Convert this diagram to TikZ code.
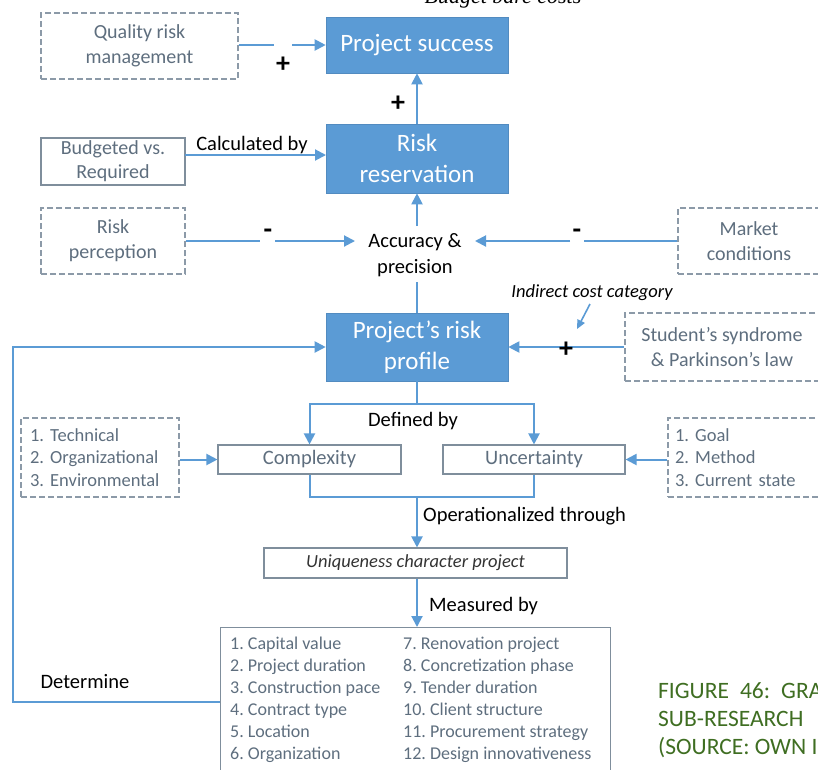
\documentclass[tikz,border=0pt]{standalone}
\usepackage{fontspec}
\setmainfont{Carlito}
\newfontfamily\serifit{Liberation Serif}
\usetikzlibrary{arrows.meta}
\frenchspacing
\definecolor{bblue}{HTML}{5B9BD5}
\definecolor{lblue}{HTML}{5B9BD5}
\definecolor{boxtxt}{HTML}{5E6E7E}
\definecolor{dashgray}{HTML}{8C9AA8}
\definecolor{solidgray}{HTML}{7F8E9C}
\definecolor{capgreen}{HTML}{3F6E22}
\tikzset{
  filledbox/.style={draw=bblue!90!black, line width=0.6pt, fill=bblue, text=white, font=\fontsize{25}{31}\selectfont, align=center, inner sep=0pt},
  dashbox/.style={draw=dashgray, dashed, dash pattern=on 6pt off 3pt, line width=1.1pt, text=boxtxt, font=\fontsize{20}{25}\selectfont, align=center, inner sep=0pt},
  solidbox/.style={draw=solidgray, line width=1.1pt, text=boxtxt, font=\fontsize{20}{24}\selectfont, align=center, inner sep=0pt},
  plaintxt/.style={text=boxtxt, font=\fontsize{20}{25}\selectfont, align=center, inner sep=0pt},
  listtxt/.style={align=left, font=\fontsize{18.5}{22.5}\selectfont},
  arr/.style={draw=lblue, line width=2pt, -{Triangle[length=11pt,width=11pt]}},
  ln/.style={draw=lblue, line width=2pt},
  lbl/.style={font=\fontsize{20.5}{26}\selectfont, text=black, inner sep=0pt},
  sign/.style={font=\bfseries\fontsize{28}{28}\selectfont, text=black, inner sep=0pt},
}
\begin{document}
\begin{tikzpicture}[x=1pt,y=-1pt]
\useasboundingbox (0,0) rectangle (818,769);

% top cut-off text
\node[font=\serifit\itshape\fontsize{22}{22}\selectfont, anchor=base, inner sep=0pt] (bbc) at (503,3) {Budget bare costs};

% Row 1
\node[dashbox, minimum width=197pt, minimum height=66pt] (qrm) at (139.5,46) {Quality risk\\management};
\node[filledbox, minimum width=182pt, minimum height=56pt] (ps) at (417,45) {Project success};
\coordinate (g1) at (274,45);
\coordinate (g2) at (292,45);
\draw[ln] (qrm.east |- ps.west) -- (g1);
\draw[arr] (g2) -- (ps.west);
\node[sign] (p1) at (283,65) {+};

% Row 2
\node[filledbox, minimum width=182pt, minimum height=69pt] (rr) at (417,158.5) {Risk\\reservation};
\draw[arr] (rr.north) -- (ps.south);
\node[sign] (p2) at (398,104) {+};
\node[solidbox, minimum width=144pt, minimum height=47pt] (bvr) at (113,161.5) {Budgeted vs.\\Required};
\coordinate (bvrout) at (185,155);
\coordinate (rrin) at (326,155);
\draw[arr] (bvrout) -- (rrin);
\node[lbl] (calc) at (252,145) {Calculated by};

% Row 3
\node[dashbox, minimum width=144pt, minimum height=66pt] (rp) at (113,241) {Risk\\perception};
\node[dashbox, minimum width=160pt, minimum height=66pt] (mc) at (758,241) {};
\node[plaintxt] (mct) at (749,241) {Market\\conditions};
\node[lbl, align=center] (acc) at (415,255) {Accuracy \&\\precision};
\coordinate (accl) at (355,241);
\coordinate (accr) at (475,241);
\coordinate (g3) at (260,241);
\coordinate (g4) at (275,241);
\coordinate (g5) at (584,241);
\coordinate (g6) at (570,241);
\draw[ln] (rp.east) -- (g3);
\draw[arr] (g4) -- (accl);
\draw[ln] (mc.west) -- (g5);
\draw[arr] (g6) -- (accr);
\node[sign] (m1) at (268,234) {-};
\node[sign] (m2) at (577,234) {-};
\coordinate (acctop) at (417,226);
\coordinate (accbot) at (417,282);
\draw[arr] (acctop) -- (rr.south);

% Row 4
\node[filledbox, minimum width=182pt, minimum height=68pt] (prof) at (417,347) {Project's risk\\profile};
\draw[ln] (prof.north) -- (accbot);
\node[dashbox, minimum width=205pt, minimum height=68pt] (ss) at (727.5,347) {};
\node[plaintxt] (sst) at (722,347) {Student's syndrome\\\& Parkinson's law};
\draw[arr] (ss.west) -- (prof.east);
\node[sign] (p3) at (566,350) {+};
\node[font=\itshape\fontsize{18.5}{18.5}\selectfont, inner sep=0pt] (icc) at (592,293) {Indirect cost category};
\coordinate (iccs) at (590,304);
\coordinate (icce) at (577,329);
\draw[draw=lblue, line width=1.6pt, -{Triangle[length=9pt,width=8pt]}] (iccs) -- (icce);

% Row 5
\node[dashbox, listtxt, minimum width=158pt, minimum height=79pt, text width=140pt] (tech) at (100,457.5) {1. Technical\\2. Organizational\\3. Environmental};
\node[solidbox, font=\fontsize{20.5}{24}\selectfont, minimum width=183pt, minimum height=29pt] (cx) at (309.5,459.5) {Complexity};
\node[solidbox, font=\fontsize{20.5}{24}\selectfont, minimum width=182pt, minimum height=29pt] (un) at (534,459.5) {Uncertainty};
\node[dashbox, listtxt, minimum width=160pt, minimum height=79pt, text width=146pt] (goal) at (748,457.5) {1. Goal\\2. Method\\3. Current state};
\draw[arr] (tech.east |- cx.west) -- (cx.west);
\draw[arr] (goal.west |- un.east) -- (un.east);
\coordinate (split) at (417,404);
\draw[ln] (prof.south) -- (split);
\draw[arr] (split) -| (cx.north);
\draw[arr] (split) -| (un.north);
\node[lbl] (defby) at (413,421) {Defined by};
\coordinate (join) at (417,497);
\draw[ln] (cx.south) |- (join);
\draw[ln] (un.south) |- (join);

% Row 6
\node[solidbox, minimum width=303pt, minimum height=30pt, font=\itshape\fontsize{18.5}{20}\selectfont, text=black!80] (uq) at (415.5,563) {Uniqueness character project};
\draw[arr] (join) -- (uq.north -| join);
\node[lbl, anchor=west] (opt) at (423,516) {Operationalized through};

% Row 7
\node[solidbox, minimum width=390pt, minimum height=160pt, anchor=north west] (meas) at (220,627) {};
\draw[arr] (uq.south -| join) -- (meas.north -| join);
\node[lbl, anchor=west] (mby) at (429,606) {Measured by};
\node[anchor=north west, align=left, inner sep=0pt, text=boxtxt, font=\fontsize{18}{22}\selectfont] (colA) at (230,637) {1. Capital value\\2. Project duration\\3. Construction pace\\4. Contract type\\5. Location\\6. Organization};
\node[anchor=north west, align=left, inner sep=0pt, text=boxtxt, font=\fontsize{18}{22}\selectfont] (colB) at (403,637) {7. Renovation project\\8. Concretization phase\\9. Tender duration\\10. Client structure\\11. Procurement strategy\\12. Design innovativeness};

% feedback loop
\coordinate (dl) at (220,702);
\coordinate (c1) at (13,702);
\coordinate (c2) at (13,347);
\draw[arr] (dl) -- (c1) -- (c2) -- (prof.west);
\node[lbl] (det) at (85,682) {Determine};

% caption
\node[anchor=west, align=left, inner sep=0pt, text=capgreen, font=\fontsize{23.5}{28}\selectfont] (cap) at (658,720) {FIGURE\hspace{11pt}46:\hspace{11pt}GRA\\SUB-RESEARCH\\(SOURCE: OWN I};
\end{tikzpicture}
\end{document}
